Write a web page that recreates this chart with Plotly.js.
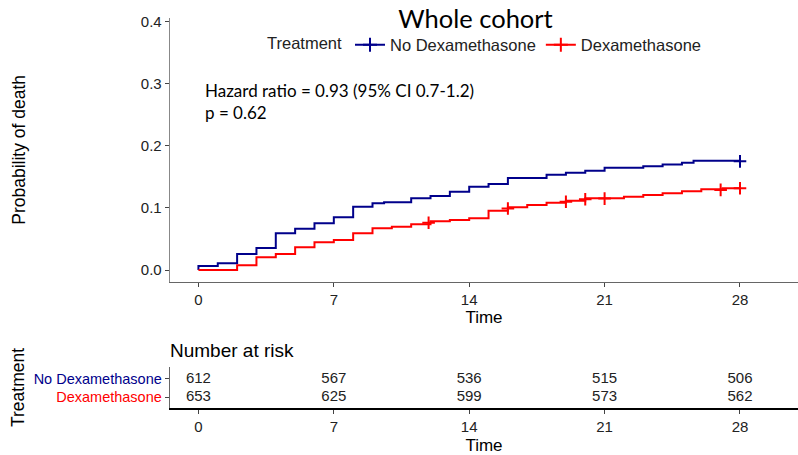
<!DOCTYPE html>
<html>
<head>
<meta charset="utf-8">
<script src="https://cdn.plot.ly/plotly-3.0.1.min.js"></script>
<style>html,body{margin:0;padding:0;background:#fff;}#chart{width:798px;height:455px;}</style>
</head>
<body>
<div id="chart"></div>
<script>
// ---- Data ----
const groups = ["No Dexamethasone", "Dexamethasone"];
const groupColors = ["#00008B", "#FF0000"];

const timeNoDex = [0, 0, 1, 2, 3, 4, 5, 6, 7, 8, 9, 9.6, 11, 12, 13, 14, 15, 16, 18, 19, 20, 21, 23, 24, 25, 25.6, 28];
const probNoDex = [0, 0.0064, 0.0108, 0.0258, 0.0354, 0.0591, 0.0665, 0.0752, 0.0849, 0.1019, 0.1074, 0.109, 0.1155, 0.119, 0.126, 0.134, 0.1385, 0.148, 0.1535, 0.1567, 0.160, 0.1647, 0.167, 0.170, 0.1728, 0.176, 0.176];
const censorTimeNoDex = [28];
const censorProbNoDex = [0.175];

const timeDex = [0, 2, 3, 4, 5, 6, 7, 8, 9, 10, 11, 12, 13, 14, 15, 16, 17, 18, 19, 20, 22, 23, 24, 25, 26, 27.1, 28];
const probDex = [0, 0.0076, 0.0205, 0.0258, 0.0366, 0.0446, 0.0483, 0.0591, 0.0671, 0.0697, 0.0736, 0.0784, 0.0805, 0.0833, 0.0955, 0.101, 0.1047, 0.1084, 0.1116, 0.1155, 0.118, 0.121, 0.1235, 0.127, 0.130, 0.1316, 0.1316];
const censorTimeDex = [11.9, 16, 19, 20, 21, 27, 28];
const censorProbDex = [0.076, 0.099, 0.110, 0.114, 0.115, 0.129, 0.1316];

const riskTimes = [0, 7, 14, 21, 28];
const riskNoDex = [612, 567, 536, 515, 506];
const riskDex = [653, 625, 599, 573, 562];

const xTicks = [0, 7, 14, 21, 28];
const yTicks = [0, 0.1, 0.2, 0.3, 0.4];

const titleText = "Whole cohort";
const hrText = "Hazard ratio = 0.93 (95% CI 0.7-1.2)<br>p = 0.62";

// ---- Traces ----
const FONT = "Liberation Sans, Arial, sans-serif";
const CAL = "Lato, Open Sans, sans-serif";

const traces = [
  {x: timeNoDex, y: probNoDex, type: "scatter", mode: "lines", line: {shape: "hv", color: groupColors[0], width: 2}, showlegend: false, hoverinfo: "skip"},
  {x: timeDex, y: probDex, type: "scatter", mode: "lines", line: {shape: "hv", color: groupColors[1], width: 2}, showlegend: false, hoverinfo: "skip"},
  {x: censorTimeNoDex, y: censorProbNoDex, type: "scatter", mode: "markers", marker: {symbol: "cross-thin", size: 9, line: {width: 2, color: groupColors[0]}, color: groupColors[0]}, showlegend: false},
  {x: censorTimeDex, y: censorProbDex, type: "scatter", mode: "markers", marker: {symbol: "cross-thin", size: 9, line: {width: 2, color: groupColors[1]}, color: groupColors[1]}, showlegend: false},
  // legend entries
  {x: [null], y: [null], type: "scatter", mode: "lines+markers", name: groups[0], line: {color: groupColors[0], width: 2}, marker: {symbol: "cross-thin", size: 10, line: {width: 2, color: groupColors[0]}}},
  {x: [null], y: [null], type: "scatter", mode: "lines+markers", name: groups[1], line: {color: groupColors[1], width: 2}, marker: {symbol: "cross-thin", size: 10, line: {width: 2, color: groupColors[1]}}},
  // risk table
  {x: riskTimes, y: riskTimes.map(() => 2), text: riskNoDex.map(String), type: "scatter", mode: "text", xaxis: "x2", yaxis: "y2", textfont: {family: FONT, size: 15, color: "#222"}, showlegend: false, hoverinfo: "skip"},
  {x: riskTimes, y: riskTimes.map(() => 1), text: riskDex.map(String), type: "scatter", mode: "text", xaxis: "x2", yaxis: "y2", textfont: {family: FONT, size: 15, color: "#222"}, showlegend: false, hoverinfo: "skip"}
];

const W = 798, H = 455;
const xDom = [170 / W, 1];
const axCommon = {showgrid: false, zeroline: false, showline: true, ticks: "outside", ticklen: 4, tickcolor: "#444", tickfont: {family: FONT, size: 15, color: "#222"}};

const layout = {
  width: W, height: H,
  margin: {l: 0, r: 0, t: 0, b: 0},
  paper_bgcolor: "#fff", plot_bgcolor: "#fff",
  title: {text: titleText, x: 475.5 / W, xanchor: "center", xref: "paper", y: 1 - 19 / H, yanchor: "middle", font: {family: CAL, size: 25.5, color: "#000"}},
  showlegend: true,
  legend: {orientation: "h", x: 265 / W, xanchor: "left", y: 1 - 45 / H, yanchor: "middle", font: {family: FONT, size: 16.5, color: "#222"}, title: {text: "Treatment", side: "left", font: {family: FONT, size: 16.5, color: "#222"}}, itemwidth: 30, bgcolor: "rgba(0,0,0,0)"},
  xaxis: Object.assign({}, axCommon, {domain: xDom, anchor: "y", range: [-1.47, 31.0], tickvals: xTicks, linecolor: "#666", linewidth: 1.3,
    title: {text: "Time", font: {family: FONT, size: 17, color: "#000"}, standoff: 4}}),
  yaxis: Object.assign({}, axCommon, {domain: [1 - 281.7 / H, 1 - 18 / H], anchor: "x", range: [-0.0188, 0.4058], tickvals: yTicks, tickformat: ".1f", linecolor: "#888", linewidth: 1.3,
    title: {text: "Probability of death", font: {family: FONT, size: 17.5, color: "#000"}, standoff: 110}}),
  xaxis2: Object.assign({}, axCommon, {domain: xDom, anchor: "y2", range: [-1.47, 31.0], tickvals: xTicks, linecolor: "#000", linewidth: 1.3,
    title: {text: "Time", font: {family: FONT, size: 17, color: "#000"}, standoff: 8}}),
  yaxis2: Object.assign({}, axCommon, {domain: [1 - 408.3 / H, 1 - 366.7 / H], anchor: "x2", range: [0.4, 2.66], tickvals: [2, 1],
    ticktext: groups.map((g, i) => '<span style="color:' + groupColors[i] + '">' + g + '</span>'),
    tickfont: {family: FONT, size: 14.5, color: "#222"}, linecolor: "#666", linewidth: 1.3,
    title: {text: "Treatment", font: {family: FONT, size: 17.5, color: "#000"}, standoff: 4}}),
  annotations: [
    {text: hrText, xref: "paper", yref: "paper", x: 203 / W, y: 1 - 78 / H, xanchor: "left", yanchor: "top", align: "left", showarrow: false, font: {family: CAL, size: 17, color: "#000"}},
    {text: "Number at risk", xref: "paper", yref: "paper", x: 168 / W, y: 1 - 350 / H, xanchor: "left", yanchor: "middle", showarrow: false, font: {family: FONT, size: 19, color: "#000"}}
  ]
};

Plotly.newPlot("chart", traces, layout, {staticPlot: true, displayModeBar: false});
</script>
</body>
</html>
